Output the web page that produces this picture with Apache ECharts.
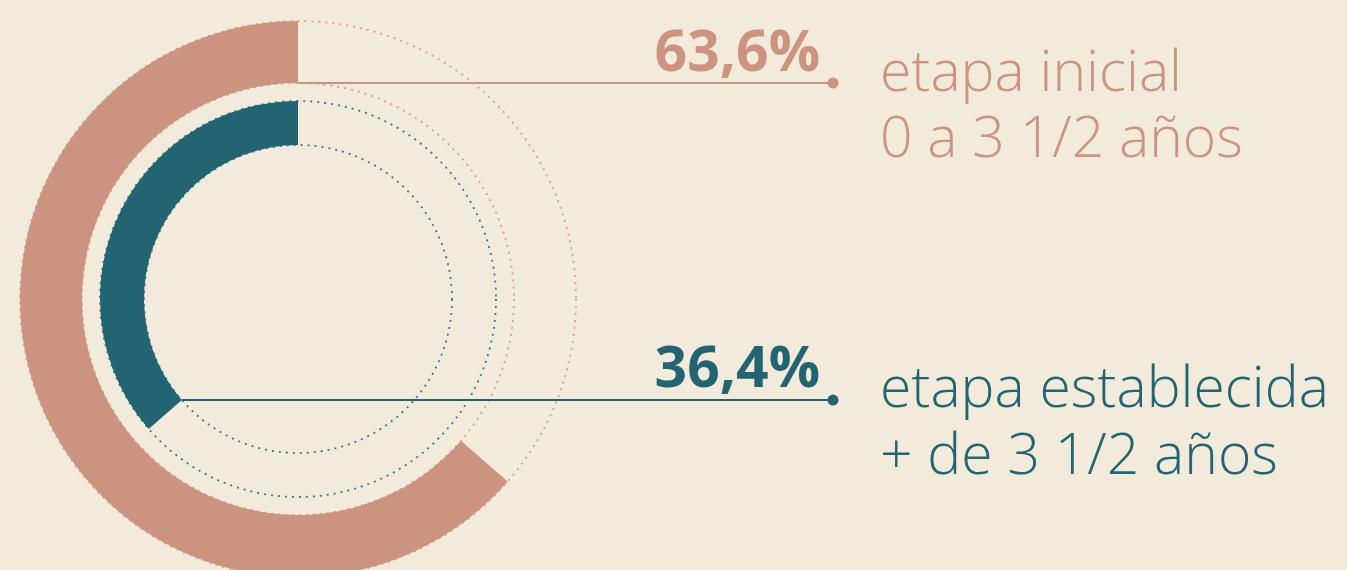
<!DOCTYPE html>
<html>
<head>
<meta charset="utf-8">
<script src="https://cdn.jsdelivr.net/npm/echarts@6/dist/echarts.min.js"></script>
<style>
html,body{margin:0;padding:0;background:#f2ebdb;}
#c{width:1347px;height:570px;}
</style>
</head>
<body>
<div id="c"></div>
<script>
// ---- data ----
const categories = ['etapa inicial', 'etapa establecida'];
const subtitles = ['0 a 3 1/2 años', '+ de 3 1/2 años'];
const values = [63.6, 36.4];
const valueLabels = ['63,6%', '36,4%'];

// ---- styles / layout ----
const colors = ['#cc9381', '#236472'];
const dotColors = ['#d6a091', '#3a7886'];
const CENTER = [298, 299];
const RINGS = [[216, 278], [154, 198]];
const LINE_END_X = 833;
const FONT = "'Open Sans', 'Noto Sans', sans-serif";

const chart = echarts.init(document.getElementById('c'));

function polarPoint(value, r) {
  const a = (90 + value / 100 * 360) * Math.PI / 180;
  return [CENTER[0] + r * Math.cos(a), CENTER[1] - r * Math.sin(a)];
}

// connector anchors: outer ring at start of its arc, inner ring at end of its arc
const anchors = [
  polarPoint(0, RINGS[0][0]),
  polarPoint(values[1], RINGS[1][0])
];

const labelPos = [
  { num: [820, 55], l1: [880, 75], l2: [880, 141] },
  { num: [820, 371], l1: [880, 391], l2: [880, 458] }
];

const graphics = [];
anchors.forEach((p, i) => {
  graphics.push({
    type: 'line', silent: true, z: 10,
    shape: { x1: p[0], y1: p[1], x2: LINE_END_X, y2: p[1] },
    style: { stroke: colors[i], lineWidth: 2 }
  });
  graphics.push({
    type: 'circle', silent: true, z: 10,
    shape: { cx: LINE_END_X, cy: p[1], r: 5.5 },
    style: { fill: colors[i] }
  });
  const lp = labelPos[i];
  graphics.push({
    type: 'text', silent: true, z: 10,
    style: { text: valueLabels[i], x: lp.num[0], y: lp.num[1], align: 'right', verticalAlign: 'middle',
      fill: colors[i], font: "700 57px " + FONT }
  });
  graphics.push({
    type: 'text', silent: true, z: 10,
    style: { text: categories[i], x: lp.l1[0], y: lp.l1[1], align: 'left', verticalAlign: 'middle',
      fill: colors[i], font: "300 57px " + FONT }
  });
  graphics.push({
    type: 'text', silent: true, z: 10,
    style: { text: subtitles[i], x: lp.l2[0], y: lp.l2[1], align: 'left', verticalAlign: 'middle',
      fill: colors[i], font: "300 57px " + FONT }
  });
});

chart.setOption({
  backgroundColor: '#f2ebdb',
  animation: false,
  polar: RINGS.map(r => ({ center: CENTER, radius: r })),
  angleAxis: RINGS.map((r, i) => ({
    polarIndex: i, type: 'value', min: 0, max: 100, startAngle: 90, clockwise: false,
    axisLine: { show: false }, axisTick: { show: false }, axisLabel: { show: false },
    splitLine: { show: false }
  })),
  radiusAxis: RINGS.map((r, i) => ({
    polarIndex: i, type: 'category', data: [categories[i]],
    axisLine: { show: false }, axisTick: { show: false }, axisLabel: { show: false },
    splitLine: { show: true, lineStyle: { color: dotColors[i], type: [2, 5], width: 1.8 } }
  })),
  series: values.map((v, i) => ({
    type: 'bar', coordinateSystem: 'polar', polarIndex: i, name: categories[i],
    data: [v], barWidth: '100%', silent: true, z: 3,
    itemStyle: { color: colors[i] }
  })),
  graphic: graphics
});
</script>
</body>
</html>
